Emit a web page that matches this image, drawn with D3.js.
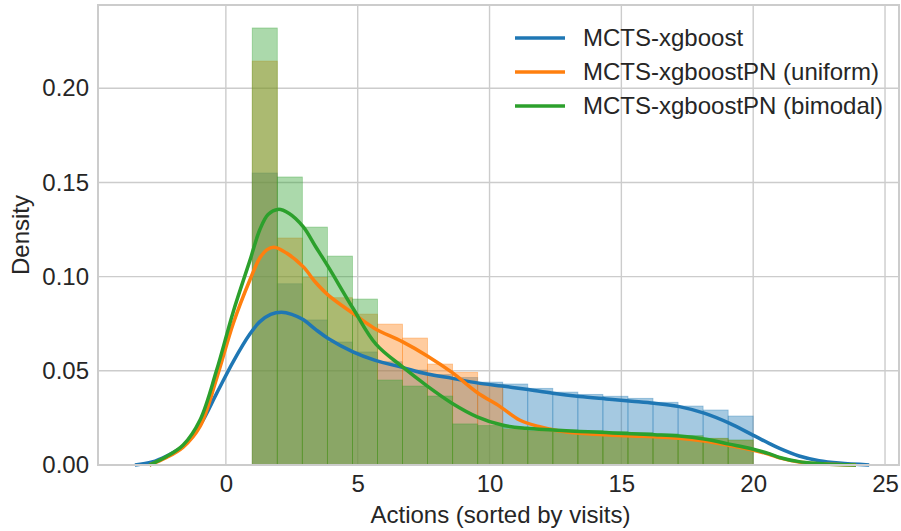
<!DOCTYPE html>
<html>
<head>
<meta charset="utf-8">
<script src="https://cdn.jsdelivr.net/npm/d3@7"></script>
<style>
  body { margin: 0; background: #fff; }
  svg { display: block; }
  text { font-family: "Liberation Sans", Arial, sans-serif; fill: #262626; }
</style>
</head>
<body>
<div class="container"></div>
<script>
const WIDTH = 901;
const HEIGHT = 531;

// histogram bins (20 bins between 1 and 20)
var binEdges = [1, 1.95, 2.9, 3.85, 4.8, 5.75, 6.7, 7.65, 8.6, 9.55, 10.5,
    11.45, 12.4, 13.35, 14.3, 15.25, 16.2, 17.15, 18.1, 19.05, 20];

var histBlue = [0.155, 0.0962, 0.077, 0.0653, 0.060, 0.0548, 0.0504, 0.048, 0.0464, 0.044,
    0.043, 0.0407, 0.0387, 0.0375, 0.0365, 0.0354, 0.0333, 0.0313, 0.0292, 0.026];
var histOrange = [0.2144, 0.1205, 0.0996, 0.0888, 0.0801, 0.0748, 0.0674, 0.0536, 0.0492, 0.0425,
    0.019, 0.018, 0.0175, 0.017, 0.0165, 0.016, 0.0155, 0.015, 0.014, 0.013];
var histGreen = [0.232, 0.1529, 0.1263, 0.1109, 0.0881, 0.0451, 0.0419, 0.0366, 0.0218, 0.0209,
    0.020, 0.0195, 0.0186, 0.0182, 0.0177, 0.0172, 0.0165, 0.0156, 0.0142, 0.0133];

// kde curves, [x, density]
var kdeBlue = [[-3.45, 0], [-2.8, 0.0016], [-2.25, 0.0048], [-1.62, 0.0100], [-0.98, 0.0212],
    [-0.35, 0.0380], [0.28, 0.0549], [0.91, 0.0695], [1.29, 0.0761], [1.7, 0.0800], [2.11, 0.0811],
    [2.5, 0.0800], [2.93, 0.0772], [3.4, 0.0720], [3.88, 0.0672], [4.82, 0.0601], [5.64, 0.0557],
    [6.69, 0.0518], [7.64, 0.0483], [8.59, 0.0460], [9.53, 0.0436], [10.48, 0.0419], [11.39, 0.0402],
    [12.4, 0.0381], [13.41, 0.0364], [14.42, 0.0351], [15.4, 0.0339], [16.25, 0.0328], [17.2, 0.0310],
    [18.14, 0.0275], [19.09, 0.0222], [19.97, 0.0160], [20.6, 0.0115], [21.0, 0.0088], [21.74, 0.0048],
    [22.5, 0.0023], [23.26, 0.0010], [24.4, 0]];
var kdeOrange = [[-2.9, 0], [-2.25, 0.0040], [-1.62, 0.0095], [-0.98, 0.0205], [-0.35, 0.0460],
    [0.28, 0.0752], [0.91, 0.0982], [1.29, 0.1100], [1.55, 0.1142], [1.83, 0.1156], [2.3, 0.1125],
    [2.93, 0.1053], [3.4, 0.0970], [3.88, 0.0902], [4.82, 0.0805], [5.64, 0.0725], [6.69, 0.0655],
    [7.64, 0.0579], [8.59, 0.0490], [9.53, 0.0385], [10.4, 0.0310], [11.14, 0.0239], [11.9, 0.0203],
    [12.65, 0.0180], [13.41, 0.0168], [14.42, 0.0160], [15.4, 0.0154], [16.25, 0.0150], [17.2, 0.0142],
    [18.14, 0.0127], [19.09, 0.0104], [19.97, 0.0080], [20.6, 0.0057], [21.0, 0.0038], [21.74, 0.0016],
    [22.5, 0.0006], [23.9, 0]];
var kdeGreen = [[-2.9, 0], [-2.25, 0.0045], [-1.62, 0.0106], [-0.98, 0.0239], [-0.35, 0.0504],
    [0.28, 0.0814], [0.91, 0.1085], [1.29, 0.1250], [1.6, 0.1330], [1.98, 0.1357], [2.4, 0.1335],
    [2.93, 0.1265], [3.4, 0.1160], [3.88, 0.1053], [4.82, 0.0832], [5.7, 0.0640], [6.69, 0.0522],
    [7.64, 0.0419], [8.59, 0.0327], [9.53, 0.0256], [10.48, 0.0212], [11.39, 0.0195], [12.4, 0.0186],
    [13.41, 0.0178], [14.42, 0.0172], [15.4, 0.0166], [16.25, 0.0161], [17.2, 0.0154], [18.14, 0.0138],
    [19.09, 0.0111], [19.97, 0.0085], [20.6, 0.0060], [21.0, 0.0040], [21.74, 0.0018], [22.5, 0.0008],
    [23.2, 0.0002], [23.9, 0]];

var labels = ['MCTS-xgboost', 'MCTS-xgboostPN (uniform)', 'MCTS-xgboostPN (bimodal)'];
var colors = ['#1f77b4', '#ff7f0e', '#2ca02c'];
var xTicks = [0, 5, 10, 15, 20, 25];
var yTicks = [0, 0.05, 0.10, 0.15, 0.20];

var series = [
    {hist: histBlue, kde: kdeBlue},
    {hist: histOrange, kde: kdeOrange},
    {hist: histGreen, kde: kdeGreen}
];

var translate = function(x, y) {
    return `translate(${x},${y})`;
};

var draw = function() {
    const left = 98, right = 899, top = 5, bottom = 465;

    var svg = d3.select('.container').append('svg')
        .attr('width', WIDTH)
        .attr('height', HEIGHT);

    let x = d3.scaleLinear().domain([-4.85, 25.53]).range([left, right]);
    let y = d3.scaleLinear().domain([0, 0.2442]).range([bottom, top]);

    // grid
    svg.append('g').selectAll('line').data(xTicks).join('line')
        .attr('x1', d => x(d)).attr('x2', d => x(d))
        .attr('y1', top).attr('y2', bottom)
        .attr('stroke', '#cccccc').attr('stroke-width', 1.4);
    svg.append('g').selectAll('line').data(yTicks).join('line')
        .attr('x1', left).attr('x2', right)
        .attr('y1', d => y(d)).attr('y2', d => y(d))
        .attr('stroke', '#cccccc').attr('stroke-width', 1.4);

    // histograms
    series.forEach((s, i) => {
        svg.append('g').selectAll('rect').data(s.hist).join('rect')
            .attr('x', (d, j) => x(binEdges[j]))
            .attr('width', (d, j) => x(binEdges[j + 1]) - x(binEdges[j]))
            .attr('y', d => y(d))
            .attr('height', d => y(0) - y(d))
            .attr('fill', colors[i]).attr('fill-opacity', 0.4)
            .attr('stroke', colors[i]).attr('stroke-opacity', 0.4).attr('stroke-width', 0.8);
    });

    // kde lines
    var line = d3.line()
        .x(([a, b]) => x(a))
        .y(([a, b]) => y(Math.max(0, b)))
        .curve(d3.curveCatmullRom.alpha(0.5));
    series.forEach((s, i) => {
        svg.append('path')
            .attr('d', line(s.kde))
            .attr('fill', 'none')
            .attr('stroke', colors[i])
            .attr('stroke-width', 3.5)
            .attr('stroke-linejoin', 'round');
    });

    // frame
    svg.append('rect')
        .attr('x', left).attr('y', top)
        .attr('width', right - left).attr('height', bottom - top)
        .attr('fill', 'none').attr('stroke', '#cccccc').attr('stroke-width', 2);

    // axes
    let xAxis = d3.axisBottom(x).tickValues(xTicks).tickSize(0).tickPadding(10).tickFormat(d3.format('d'));
    let yAxis = d3.axisLeft(y).tickValues(yTicks).tickSize(0).tickPadding(9).tickFormat(d3.format('.2f'));

    svg.append('g').attr('transform', translate(0, bottom)).call(xAxis)
        .call(g => g.select('.domain').remove())
        .selectAll('text').style('font-size', '24px').attr('fill', '#262626');
    svg.append('g').attr('transform', translate(left, 0)).call(yAxis)
        .call(g => g.select('.domain').remove())
        .selectAll('text').style('font-size', '24px').attr('fill', '#262626');

    svg.append('text')
        .attr('x', (left + right) / 2 + 2).attr('y', 523)
        .attr('text-anchor', 'middle')
        .style('font-size', '24px')
        .text('Actions (sorted by visits)');
    svg.append('text')
        .attr('transform', translate(29, (top + bottom) / 2) + ' rotate(-90)')
        .attr('text-anchor', 'middle')
        .style('font-size', '24px')
        .text('Density');

    // legend
    var legend = svg.append('g').attr('transform', translate(515, 38));
    labels.forEach((lab, i) => {
        legend.append('line')
            .attr('x1', 0).attr('x2', 50)
            .attr('y1', i * 34).attr('y2', i * 34)
            .attr('stroke', colors[i]).attr('stroke-width', 3.5);
        legend.append('text')
            .attr('x', 68).attr('y', i * 34).attr('dy', '0.35em')
            .style('font-size', '24px')
            .text(lab);
    });
};
window.onload = draw;
</script>
</body>
</html>
